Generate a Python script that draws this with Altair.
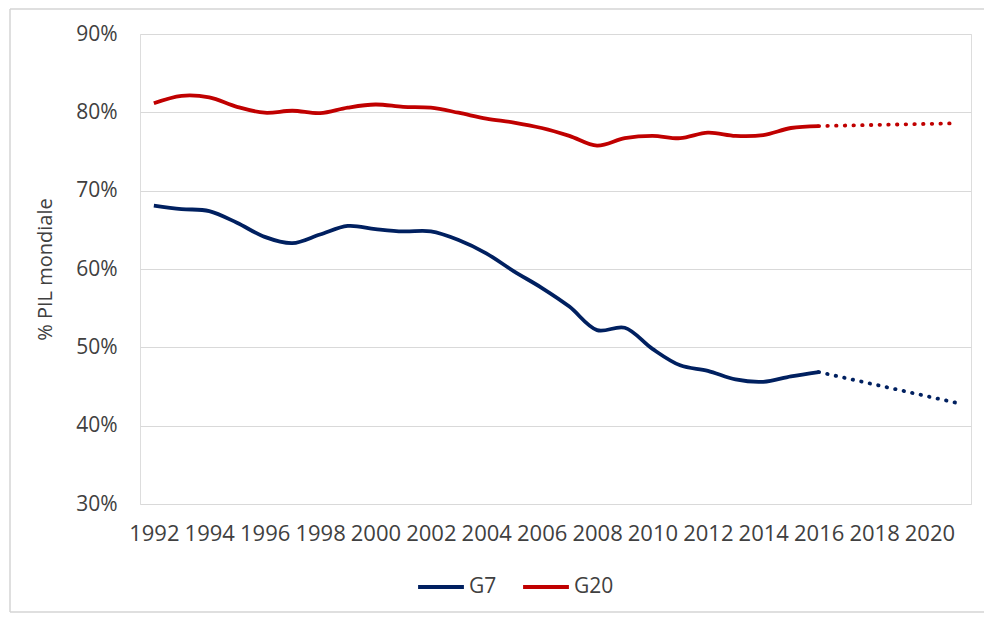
import altair as alt
import pandas as pd

years = list(range(1992, 2017))
g7 = [68.1, 67.65, 67.4, 65.9, 64.1, 63.3, 64.4, 65.5, 65.1, 64.8, 64.8, 63.7, 62.0,
      59.7, 57.6, 55.2, 52.2, 52.5, 49.8, 47.7, 47.0, 45.9, 45.6, 46.3, 46.85]
g20 = [81.15, 82.1, 81.9, 80.7, 79.95, 80.2, 79.9, 80.6, 81.0, 80.7, 80.6, 79.95, 79.2,
       78.7, 78.0, 77.0, 75.75, 76.7, 77.0, 76.7, 77.4, 77.0, 77.1, 78.0, 78.25]
proj_years = [2016, 2021]
g7_proj = [46.85, 42.9]
g20_proj = [78.25, 78.6]

series_names = ["G7", "G20"]
series_colors = ["#002060", "#C00000"]
tick_years = list(range(1992, 2021, 2))
y_ticks = [30, 40, 50, 60, 70, 80, 90]

hist = pd.DataFrame({
    "year": years * 2,
    "value": g7 + g20,
    "series": ["G7"] * len(years) + ["G20"] * len(years),
})
proj = pd.DataFrame({
    "year": proj_years * 2,
    "value": g7_proj + g20_proj,
    "series": ["G7"] * 2 + ["G20"] * 2,
})

FONT = "Open Sans"
TXT = "#404040"

x_enc = alt.X("year:Q",
              scale=alt.Scale(domain=[1991.5, 2021.5], nice=False, zero=False),
              axis=alt.Axis(values=tick_years, format="d", grid=False, domain=False,
                            ticks=False, labelFontSize=22, labelColor=TXT, labelFont=FONT,
                            labelPadding=19, labelOverlap=False, labelFlush=False),
              title=None)
y_enc = alt.Y("value:Q",
              scale=alt.Scale(domain=[30, 90], nice=False, zero=False),
              axis=alt.Axis(values=y_ticks, labelExpr="datum.value + '%'", grid=True,
                            gridColor="#d9d9d9", gridWidth=1, domain=False, ticks=False,
                            labelFontSize=21, labelColor=TXT, labelFont=FONT, labelPadding=23,
                            title="% PIL mondiale", titleFont=FONT, titleFontSize=20,
                            titleFontWeight="normal", titleColor=TXT, titleX=-95, titleY=235,
                            titleAngle=-90, titleAlign="center", titleBaseline="middle"))
color_scale = alt.Scale(domain=series_names, range=series_colors)

solid = alt.Chart(hist).mark_line(strokeWidth=3.8, interpolate="catmull-rom").encode(
    x=x_enc, y=y_enc,
    color=alt.Color("series:N", scale=color_scale, sort=series_names,
                    legend=alt.Legend(title=None, orient="none", direction="horizontal",
                                      legendX=276, legendY=528, symbolType="stroke",
                                      symbolSize=2100, symbolStrokeWidth=3.8,
                                      labelFontSize=21, labelFont=FONT, labelColor=TXT,
                                      columnPadding=18, labelOffset=3)),
)
dotted = alt.Chart(proj).mark_line(strokeWidth=3.8, strokeDash=[0.5, 8.2],
                                   strokeCap="round").encode(
    x=alt.X("year:Q"), y=alt.Y("value:Q"),
    color=alt.Color("series:N", scale=color_scale, legend=None),
)
one = pd.DataFrame({"a": [0]})
rule_style = dict(color="#d4d4d4", strokeWidth=1.5)
border_top = alt.Chart(one).mark_rule(**rule_style).encode(
    x=alt.value(-130), x2=alt.value(844), y=alt.value(-25))
border_left = alt.Chart(one).mark_rule(**rule_style).encode(
    x=alt.value(-130), y=alt.value(-25), y2=alt.value(578))
border_bottom = alt.Chart(one).mark_rule(**rule_style).encode(
    x=alt.value(-130), x2=alt.value(844), y=alt.value(578))

chart = alt.layer(border_top, border_left, border_bottom, solid, dotted).properties(
    width=831, height=470,
    autosize=alt.AutoSizeParams(type="none"),
    padding={"left": 132, "top": 26, "right": 13, "bottom": 109},
).configure_view(stroke=None).configure(background="white")

chart.save("out.html", embed_options={"renderer": "svg", "actions": False})
